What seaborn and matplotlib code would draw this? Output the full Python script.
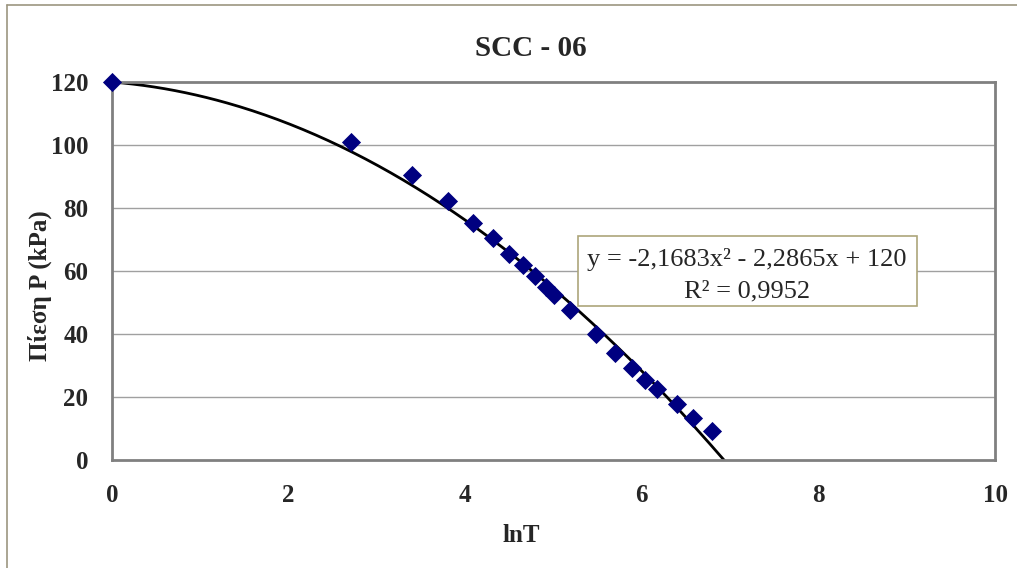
import numpy as np
import pandas as pd
import matplotlib
matplotlib.use("Agg")
import matplotlib.pyplot as plt
from matplotlib.patches import Rectangle
from matplotlib.lines import Line2D
import seaborn as sns

# ---- data ----
lnT = [0.0, 2.71, 3.40, 3.81, 4.09, 4.32, 4.50, 4.65, 4.79, 4.91, 5.01,
       5.19, 5.48, 5.70, 5.89, 6.04, 6.17, 6.40, 6.58, 6.80]
pressure = [120.0, 101.0, 90.5, 82.3, 75.2, 70.4, 65.5, 62.0, 58.5, 55.0, 52.4,
            47.5, 40.0, 34.0, 29.3, 25.5, 22.5, 17.8, 13.4, 9.2]
coef = [-2.1683, -2.2865, 120.0]   # quadratic trendline coefficients
r2 = 0.9952
xticks = [0, 2, 4, 6, 8, 10]
yticks = [0, 20, 40, 60, 80, 100, 120]

sns.set_style("white")
plt.rcParams['font.family'] = ['Liberation Serif', 'DejaVu Serif']

W, H = 1017, 568
fig = plt.figure(figsize=(W / 100, H / 100), dpi=100)
ax = fig.add_axes([112 / W, 1 - 460 / H, (995 - 112) / W, (460 - 82) / H])

df = pd.DataFrame({"lnT": lnT, "P": pressure})
xs = np.linspace(0, 7.1, 300)
fit = pd.DataFrame({"lnT": xs, "P": np.polyval(coef, xs)})

for y in yticks[1:-1]:
    ax.axhline(y, color="#A0A0A0", lw=1.0, zorder=0)

sns.lineplot(data=fit, x="lnT", y="P", ax=ax, color="black", lw=2.0, zorder=2)
sns.scatterplot(data=df, x="lnT", y="P", ax=ax, marker="D", s=95,
                color="#000080", edgecolor="#000080", linewidth=0, zorder=3,
                clip_on=False)

ax.set_xlim(0, 10)
ax.set_ylim(0, 120)
ax.set_xticks(xticks)
ax.set_yticks(yticks)
ax.set_xlabel("")
ax.set_ylabel("")
for s in ax.spines.values():
    s.set_color("#808080")
    s.set_linewidth(2.0)
ax.tick_params(axis="both", direction="out", length=7, width=1.2,
               color="#808080", labelsize=18, pad=10)
for lab in ax.get_xticklabels() + ax.get_yticklabels():
    lab.set_fontweight("bold")

# titles & labels
fig.text(531 / W, 1 - 49 / H, "SCC - 06", ha="center", va="center",
         fontsize=21, fontweight="bold")
fig.text(521 / W, 1 - 535 / H, "lnT", ha="center", va="center",
         fontsize=18, fontweight="bold")
fig.text(40 / W, 1 - 286 / H, "Πίεση P (kPa)", ha="center", va="center",
         rotation=90, fontsize=18, fontweight="bold")

# trendline equation box
fig.patches.append(Rectangle((578 / W, 1 - 306 / H), (917 - 578) / W, (306 - 236) / H,
                             transform=fig.transFigure, facecolor="white",
                             edgecolor="#ADA57A", lw=1.2, zorder=5))
fig.text(747 / W, 1 - 266 / H, "y = -2,1683x² - 2,2865x + 120", ha="center",
         va="baseline", fontsize=19, zorder=6)
fig.text(747 / W, 1 - 297 / H, "R² = 0,9952", ha="center", va="baseline",
         fontsize=19, zorder=6)

# chart area border (top and left visible)
fig.add_artist(Line2D([7 / W, 1.0], [1 - 5 / H, 1 - 5 / H], transform=fig.transFigure,
                      color="#9C9680", lw=1.2))
fig.add_artist(Line2D([7 / W, 7 / W], [0, 1 - 5 / H], transform=fig.transFigure,
                      color="#9C9680", lw=1.2))

fig.savefig("out.png", dpi=100)
